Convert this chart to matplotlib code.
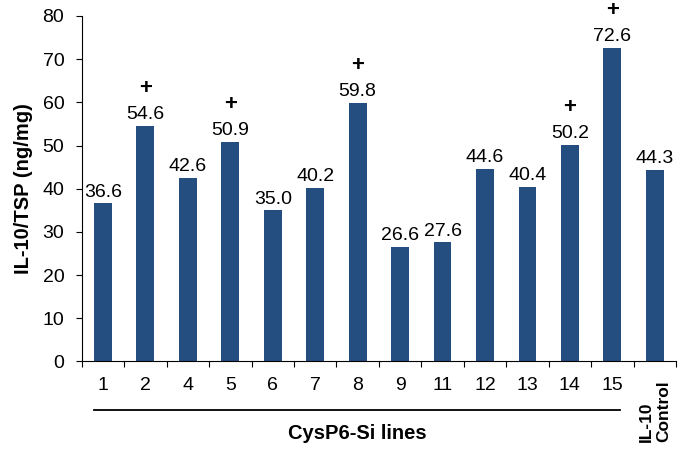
import matplotlib.pyplot as plt
import matplotlib.transforms as mtransforms
import numpy as np

plt.rcParams['font.family'] = ['Liberation Sans', 'DejaVu Sans']

# data
categories = ["1", "2", "4", "5", "6", "7", "8", "9", "11", "12", "13", "14", "15", "IL-10\nControl"]
values = [36.6, 54.6, 42.6, 50.9, 35.0, 40.2, 59.8, 26.6, 27.6, 44.6, 40.4, 50.2, 72.6, 44.3]
significant = [False, True, False, True, False, False, True, False, False, False, False, True, True, False]
y_ticks = [0, 10, 20, 30, 40, 50, 60, 70, 80]

bar_color = "#254E80"

fig = plt.figure(figsize=(6.78, 4.53), dpi=100)
ax = fig.add_axes([0.1205, 0.202, 0.8766, 0.7627])

x = np.arange(len(categories))
ax.bar(x, values, width=0.42, color=bar_color)

for xi, v, sig in zip(x, values, significant):
    ax.annotate(f"{v:.1f}", (xi, v), xytext=(0, 2), textcoords="offset points",
                ha="center", va="bottom", fontsize=14)
    if sig:
        ax.annotate("+", (xi, v), xytext=(0, 27), textcoords="offset points",
                    ha="center", va="center", fontsize=16, fontweight="bold")

ax.set_xlim(-0.5, len(categories) - 0.5)
ax.set_ylim(0, 80)
ax.set_yticks(y_ticks)
ax.tick_params(axis="y", labelsize=14, direction="out", length=4.5, pad=8)
ax.set_ylabel("IL-10/TSP (ng/mg)", fontsize=14.5, fontweight="bold")
ax.yaxis.set_label_coords(-0.082, 0.5)

# tick marks between bars, labels at bar centres
ax.set_xticks(np.arange(len(categories) + 1) - 0.5)
ax.set_xticklabels([])
ax.tick_params(axis="x", which="major", direction="out", length=4.5)
ax.set_xticks(x[:-1], minor=True)
ax.set_xticklabels(categories[:-1], minor=True)
ax.tick_params(axis="x", which="minor", length=0, labelsize=14, pad=11)

for side in ("top", "right"):
    ax.spines[side].set_visible(False)

trans = mtransforms.blended_transform_factory(ax.transData, ax.transAxes)
ax.plot([-0.22, 12.18], [-0.139, -0.139], color="black", lw=1.3,
        transform=trans, clip_on=False)
ax.text(6.0, -0.2087, "CysP6-Si lines", transform=trans, ha="center", va="center",
        fontsize=14.5, fontweight="bold")
ax.text(x[-1], -0.145, categories[-1], transform=trans, ha="center", va="center",
        rotation=90, fontsize=12.5, fontweight="bold", multialignment="left")

fig.savefig("out.png", dpi=100)
